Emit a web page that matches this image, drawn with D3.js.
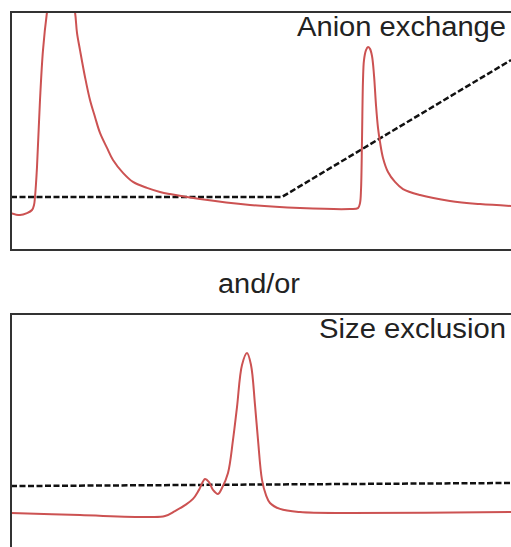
<!DOCTYPE html>
<html>
<head>
<meta charset="utf-8">
<script src="https://cdn.jsdelivr.net/npm/d3@7"></script>
<style>
  html, body { margin: 0; padding: 0; background: #fff; }
  svg { display: block; }
</style>
</head>
<body>
<svg id="chart" width="511" height="547"></svg>
<script>
// Elution volume (mL) and relative absorbance for the anion exchange run
const anionVolume = [0, 0.45, 0.8, 1.05, 1.15, 1.2, 1.3, 1.45, 1.6, 1.8, 2.05, 2.45, 2.85, 3.2, 3.3, 3.45, 3.7, 3.95, 4.2, 4.45, 4.8, 5.1, 5.6, 6.1, 6.8, 7.45, 7.95, 9.45, 11.95, 14.45, 16.95, 17.35, 17.45, 17.5, 17.55, 17.6, 17.65, 17.75, 17.85, 17.95, 18.05, 18.15, 18.25, 18.35, 18.45, 18.6, 18.85, 19.2, 19.6, 20.45, 21.95, 23.45, 25];
const anionAbsorbance = [15.5, 14.7, 15.5, 16.8, 18.9, 22.3, 34.9, 63.0, 84.0, 100, 113.4, 121.8, 115.5, 100, 91.2, 84.0, 72.7, 63.0, 55.9, 49.2, 42.9, 37.8, 32.4, 28.6, 26.1, 24.4, 23.5, 21.4, 18.9, 17.6, 17.2, 17.6, 19.7, 25.2, 46.2, 71.4, 79.8, 84.0, 85.3, 84.5, 81.5, 73.5, 60.9, 51.3, 45.4, 38.7, 32.8, 28.6, 25.6, 23.1, 20.6, 19.3, 18.5];
// Salt gradient (isocratic hold, then linear ramp)
const gradientVolume = [0, 13.55, 25];
const gradientLevel = [22.3, 22.3, 79.8];

// Size exclusion run
const secVolume = [0, 3.45, 6.95, 7.7, 8.2, 8.7, 9.1, 9.4, 9.7, 9.9, 10.1, 10.35, 10.55, 10.85, 11.1, 11.3, 11.55, 11.8, 12.0, 12.2, 12.35, 12.55, 12.75, 12.95, 13.45, 14.45, 16.95, 25];
const secAbsorbance = [16.4, 15.5, 14.7, 15.1, 17.2, 19.7, 22.3, 26.1, 30.7, 29.4, 26.1, 24.4, 26.9, 33.2, 47.1, 60.9, 78.6, 83.6, 78.6, 61.8, 47.1, 30.3, 23.9, 20.6, 18.1, 16.8, 16.4, 16.8];
const secBufferVolume = [0, 25];
const secBufferLevel = [27.7, 29.0];

const panelTitles = ["Anion exchange", "Size exclusion"];
const joinLabel = "and/or";

const svg = d3.select("#chart");
const FONT = "Liberation Sans, Arial, Helvetica, sans-serif";

const panels = [
  { top: 12, bottom: 250, title: panelTitles[0], titleWidth: 209,
    trace: d3.zip(anionVolume, anionAbsorbance),
    dashed: d3.zip(gradientVolume, gradientLevel) },
  { top: 314, bottom: 552, title: panelTitles[1], titleWidth: 187,
    trace: d3.zip(secVolume, secAbsorbance),
    dashed: d3.zip(secBufferVolume, secBufferLevel) }
];

const x = d3.scaleLinear().domain([0, 25]).range([11, 511]);

panels.forEach((p, i) => {
  const y = d3.scaleLinear().domain([0, 100]).range([p.bottom, p.top]);
  const g = svg.append("g");

  const clipId = "plot-clip-" + i;
  svg.append("clipPath").attr("id", clipId)
    .append("rect")
    .attr("x", 11).attr("y", p.top)
    .attr("width", 520).attr("height", p.bottom - p.top);

  const line = d3.line()
    .x(d => x(d[0]))
    .y(d => y(d[1]))
    .curve(d3.curveCatmullRom.alpha(0.5));

  const inner = g.append("g").attr("clip-path", `url(#${clipId})`);

  inner.append("path")
    .datum(p.dashed)
    .attr("d", d3.line().x(d => x(d[0])).y(d => y(d[1])))
    .attr("fill", "none")
    .attr("stroke", "#111")
    .attr("stroke-width", 2.5)
    .attr("stroke-dasharray", "6,2.5");

  inner.append("path")
    .datum(p.trace)
    .attr("d", line)
    .attr("fill", "none")
    .attr("stroke", "#cc5252")
    .attr("stroke-width", 2)
    .attr("stroke-linejoin", "round");

  // panel frame (right edge runs past the view)
  g.append("rect")
    .attr("x", 11).attr("y", p.top)
    .attr("width", 530).attr("height", p.bottom - p.top)
    .attr("fill", "none")
    .attr("stroke", "#333")
    .attr("stroke-width", 2);

  g.append("text")
    .attr("x", 506).attr("y", p.top + 24)
    .attr("text-anchor", "end")
    .attr("font-family", FONT)
    .attr("font-size", 27)
    .attr("textLength", p.titleWidth)
    .attr("lengthAdjust", "spacingAndGlyphs")
    .attr("fill", "#222")
    .text(p.title);
});

svg.append("text")
  .attr("x", 259).attr("y", 293)
  .attr("text-anchor", "middle")
  .attr("font-family", FONT)
  .attr("font-size", 27)
  .attr("textLength", 82)
  .attr("lengthAdjust", "spacingAndGlyphs")
  .attr("fill", "#222")
  .text(joinLabel);
</script>
</body>
</html>
